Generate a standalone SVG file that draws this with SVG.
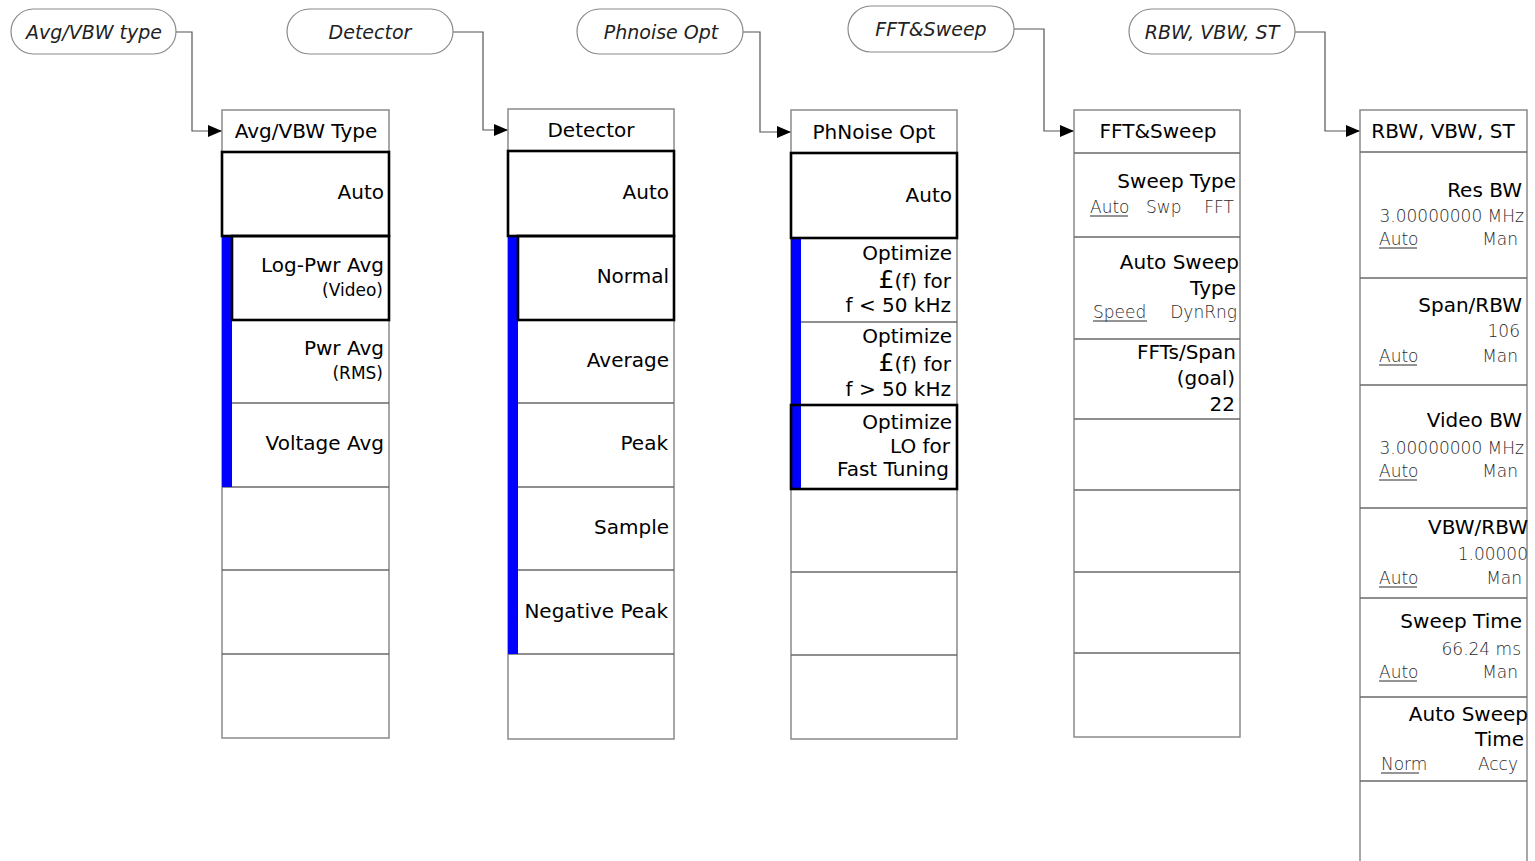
<svg xmlns="http://www.w3.org/2000/svg" width="1535" height="861" viewBox="0 0 1535 861">
  <defs>
    <marker id="arrow" viewBox="0 0 14 12" markerWidth="14" markerHeight="12" refX="14" refY="6" orient="auto" markerUnits="userSpaceOnUse">
      <path d="M0,0 L14,6 L0,12 Z" fill="#000"/>
    </marker>
    <style>
      .pill { fill: #fff; stroke: #8a8a8a; stroke-width: 1.2; }
      .pilltxt { font-family: "DejaVu Sans", "Liberation Sans", sans-serif; font-style: italic; font-size: 19px; fill: #222; text-anchor: middle; font-weight: 300; }
      .frame { fill: #fff; stroke: #8a8a8a; stroke-width: 1.5; }
      .div { stroke: #6a6a6a; stroke-width: 1.3; fill: none; }
      .sel { fill: none; stroke: #000; stroke-width: 2.6; }
      .bar { fill: #0000ff; }
      .wire { fill: none; stroke: #555; stroke-width: 1.2; }
      .t { font-family: "DejaVu Sans", "Liberation Sans", sans-serif; font-size: 20px; fill: #000; text-anchor: end; }
      .tc { font-family: "DejaVu Sans", "Liberation Sans", sans-serif; font-size: 20px; fill: #000; text-anchor: middle; }
      .s { font-family: "DejaVu Sans", "Liberation Sans", sans-serif; font-size: 17px; fill: #000; text-anchor: end; }
      .v { font-family: "DejaVu Sans", "Liberation Sans", sans-serif; font-size: 17px; fill: #2a2a2a; font-weight: 300; }
      .ve { text-anchor: end; }
      .ul { stroke: #2a2a2a; stroke-width: 1; }
      .big { font-size: 25px; }
    </style>
  </defs>

  <!-- connectors from the softkey labels to each menu -->
  <g id="connectors">
    <path class="wire" d="M176,32 H192 V131 H222" marker-end="url(#arrow)"/>
    <path class="wire" d="M453,32 H483 V130 H508" marker-end="url(#arrow)"/>
    <path class="wire" d="M743,32 H760 V132 H791" marker-end="url(#arrow)"/>
    <path class="wire" d="M1014,29 H1044 V131 H1074" marker-end="url(#arrow)"/>
    <path class="wire" d="M1295,32 H1325 V131 H1360" marker-end="url(#arrow)"/>
  </g>

  <!-- softkey labels -->
  <g id="key-avgvbw">
    <rect class="pill" x="11" y="9" width="165" height="45" rx="22.5"/>
    <text class="pilltxt" x="94" y="39">Avg/VBW type</text>
  </g>
  <g id="key-detector">
    <rect class="pill" x="287" y="9" width="166" height="45" rx="22.5"/>
    <text class="pilltxt" x="370" y="39">Detector</text>
  </g>
  <g id="key-phnoise">
    <rect class="pill" x="577" y="9" width="166" height="45" rx="22.5"/>
    <text class="pilltxt" x="661" y="39">Phnoise Opt</text>
  </g>
  <g id="key-fftsweep">
    <rect class="pill" x="848" y="6" width="166" height="46" rx="23"/>
    <text class="pilltxt" x="931" y="36">FFT&amp;Sweep</text>
  </g>
  <g id="key-rbw">
    <rect class="pill" x="1129" y="9" width="166" height="45" rx="22.5"/>
    <text class="pilltxt" x="1212" y="39">RBW, VBW, ST</text>
  </g>

  <!-- Avg/VBW Type menu -->
  <g id="menu-avgvbw">
    <rect class="frame" x="222" y="110" width="167" height="628"/>
    <path class="div" d="M222,152 H389 M222,320 H389 M222,403 H389 M222,487 H389 M222,570 H389 M222,654 H389"/>
    <rect class="bar" x="222" y="236" width="10" height="251"/>
    <rect class="sel" x="222" y="152" width="167" height="84"/>
    <rect class="sel" x="232" y="236" width="157" height="84"/>
    <text class="tc" x="306" y="138">Avg/VBW Type</text>
    <text class="t" x="384" y="199">Auto</text>
    <text class="t" x="384" y="272">Log-Pwr Avg</text>
    <text class="s" x="383" y="296">(Video)</text>
    <text class="t" x="384" y="355">Pwr Avg</text>
    <text class="s" x="383" y="379">(RMS)</text>
    <text class="t" x="384" y="450">Voltage Avg</text>
  </g>

  <!-- Detector menu -->
  <g id="menu-detector">
    <rect class="frame" x="508" y="109" width="166" height="630"/>
    <path class="div" d="M508,151 H674 M508,320 H674 M508,403 H674 M508,487 H674 M508,570 H674 M508,654 H674"/>
    <rect class="bar" x="508" y="236" width="10" height="418"/>
    <rect class="sel" x="508" y="151" width="166" height="85"/>
    <rect class="sel" x="518" y="236" width="156" height="84"/>
    <text class="tc" x="591" y="137">Detector</text>
    <text class="t" x="669" y="199">Auto</text>
    <text class="t" x="669" y="283">Normal</text>
    <text class="t" x="669" y="367">Average</text>
    <text class="t" x="668" y="450">Peak</text>
    <text class="t" x="669" y="534">Sample</text>
    <text class="t" x="668" y="618">Negative Peak</text>
  </g>

  <!-- PhNoise Opt menu -->
  <g id="menu-phnoise">
    <rect class="frame" x="791" y="110" width="166" height="629"/>
    <path class="div" d="M791,153 H957 M791,322 H957 M791,572 H957 M791,655 H957"/>
    <rect class="bar" x="791" y="238" width="10" height="251"/>
    <rect class="sel" x="791" y="153" width="166" height="85"/>
    <rect class="sel" x="791" y="405" width="166" height="84"/>
    <text class="tc" x="874" y="139">PhNoise Opt</text>
    <text class="t" x="952" y="202">Auto</text>
    <text class="t" x="952" y="260">Optimize</text>
    <text class="t" x="951" y="288"><tspan class="big">£</tspan>(f) for</text>
    <text class="t" x="951" y="312">f &lt; 50 kHz</text>
    <text class="t" x="952" y="343">Optimize</text>
    <text class="t" x="951" y="371"><tspan class="big">£</tspan>(f) for</text>
    <text class="t" x="951" y="396">f &gt; 50 kHz</text>
    <text class="t" x="952" y="429">Optimize</text>
    <text class="t" x="950" y="453">LO for</text>
    <text class="t" x="949" y="476">Fast Tuning</text>
  </g>

  <!-- FFT&Sweep menu -->
  <g id="menu-fftsweep">
    <rect class="frame" x="1074" y="110" width="166" height="627"/>
    <path class="div" d="M1074,153 H1240 M1074,237 H1240 M1074,339 H1240 M1074,419 H1240 M1074,490 H1240 M1074,572 H1240 M1074,653 H1240"/>
    <text class="tc" x="1158" y="138">FFT&amp;Sweep</text>
    <text class="t" x="1236" y="188">Sweep Type</text>
    <text class="v" x="1090" y="213">Auto</text>
    <line class="ul" x1="1090" y1="216" x2="1128" y2="216"/>
    <text class="v" x="1146" y="213">Swp</text>
    <text class="v ve" x="1234" y="213">FFT</text>
    <text class="t" x="1239" y="269">Auto Sweep</text>
    <text class="t" x="1236" y="295">Type</text>
    <text class="v" x="1093" y="318">Speed</text>
    <line class="ul" x1="1093" y1="321" x2="1147" y2="321"/>
    <text class="v ve" x="1237" y="318">DynRng</text>
    <text class="t" x="1236" y="359">FFTs/Span</text>
    <text class="t" x="1235" y="385">(goal)</text>
    <text class="t" x="1235" y="411">22</text>
  </g>

  <!-- RBW, VBW, ST menu -->
  <g id="menu-rbw">
    <rect class="frame" x="1360" y="110" width="167" height="760"/>
    <path class="div" d="M1360,152 H1527 M1360,278 H1527 M1360,385 H1527 M1360,508 H1527 M1360,598 H1527 M1360,697 H1527 M1360,781 H1527"/>
    <text class="tc" x="1443" y="138">RBW, VBW, ST</text>

    <text class="t" x="1522" y="197">Res BW</text>
    <text class="v ve" x="1524" y="222">3.00000000 MHz</text>
    <text class="v" x="1379" y="245">Auto</text>
    <line class="ul" x1="1379" y1="248" x2="1417" y2="248"/>
    <text class="v ve" x="1518" y="245">Man</text>

    <text class="t" x="1522" y="312">Span/RBW</text>
    <text class="v ve" x="1520" y="337">106</text>
    <text class="v" x="1379" y="362">Auto</text>
    <line class="ul" x1="1379" y1="365" x2="1417" y2="365"/>
    <text class="v ve" x="1518" y="362">Man</text>

    <text class="t" x="1522" y="427">Video BW</text>
    <text class="v ve" x="1524" y="454">3.00000000 MHz</text>
    <text class="v" x="1379" y="477">Auto</text>
    <line class="ul" x1="1379" y1="480" x2="1417" y2="480"/>
    <text class="v ve" x="1518" y="477">Man</text>

    <text class="t" x="1528" y="534">VBW/RBW</text>
    <text class="v ve" x="1528" y="560">1.00000</text>
    <text class="v" x="1379" y="584">Auto</text>
    <line class="ul" x1="1379" y1="587" x2="1417" y2="587"/>
    <text class="v ve" x="1522" y="584">Man</text>

    <text class="t" x="1522" y="628">Sweep Time</text>
    <text class="v ve" x="1521" y="655">66.24 ms</text>
    <text class="v" x="1379" y="678">Auto</text>
    <line class="ul" x1="1379" y1="681" x2="1417" y2="681"/>
    <text class="v ve" x="1518" y="678">Man</text>

    <text class="t" x="1528" y="721">Auto Sweep</text>
    <text class="t" x="1524" y="746">Time</text>
    <text class="v" x="1381" y="770">Norm</text>
    <line class="ul" x1="1381" y1="773" x2="1419" y2="773"/>
    <text class="v ve" x="1518" y="770">Accy</text>
  </g>
</svg>
